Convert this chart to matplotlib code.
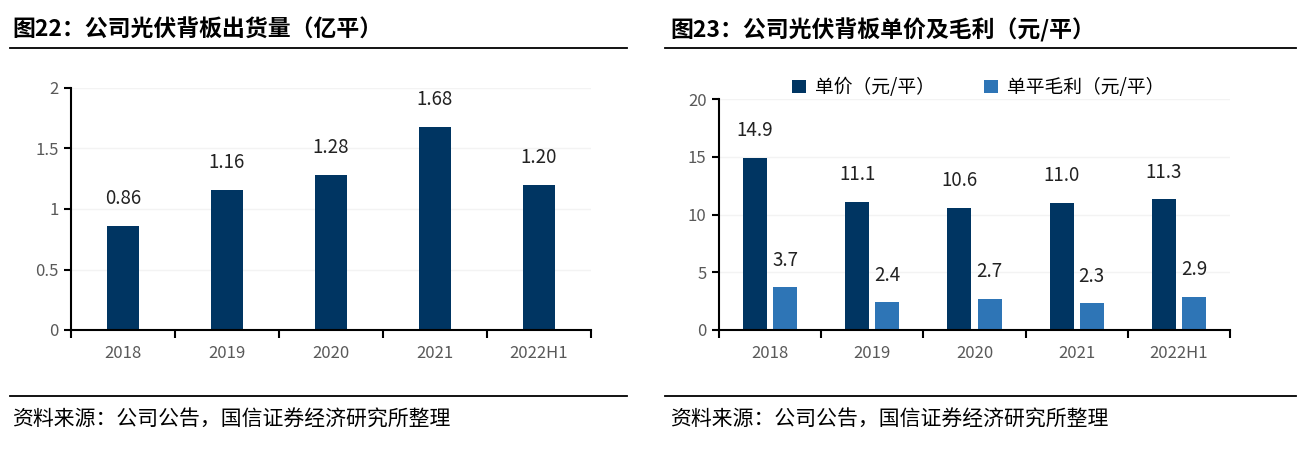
import matplotlib
matplotlib.use('Agg')
import matplotlib.pyplot as plt
from matplotlib.patches import Patch
from matplotlib.lines import Line2D
import numpy as np

plt.rcParams['font.family'] = ['Noto Sans CJK SC', 'DejaVu Sans']

# data
years = ['2018', '2019', '2020', '2021', '2022H1']
shipments = [0.86, 1.16, 1.28, 1.68, 1.20]
ship_labels = ['0.86', '1.16', '1.28', '1.68', '1.20']
unit_price = [14.9, 11.1, 10.6, 11.0, 11.3]
unit_profit = [3.7, 2.4, 2.7, 2.3, 2.9]

title_left = '图22：公司光伏背板出货量（亿平）'
title_right = '图23：公司光伏背板单价及毛利（元/平）'
source = '资料来源：公司公告，国信证券经济研究所整理'
legend_names = ['单价（元/平）', '单平毛利（元/平）']

dark = '#003562'
light = '#2e75b6'
tick_grey = '#595959'

W, H = 1306, 450
fig = plt.figure(figsize=(W / 100, H / 100), dpi=100)


def px_axes(x0, x1, ytop, ybot):
    return fig.add_axes([x0 / W, (H - ybot) / H, (x1 - x0) / W, (ybot - ytop) / H])


def style_axes(ax, ymax, ystep):
    x = np.arange(len(years))
    ax.set_xlim(-0.5, len(years) - 0.5)
    ax.set_ylim(0, ymax)
    ax.set_yticks(np.arange(0, ymax + ystep / 2, ystep))
    ax.set_xticks(np.arange(-0.5, len(years), 1.0))
    ax.set_xticklabels([])
    ax.set_xticks(x, minor=True)
    ax.set_xticklabels(years, minor=True)
    ax.tick_params(axis='x', which='major', length=6, width=1.5, direction='out', color='black')
    ax.tick_params(axis='x', which='minor', length=0, pad=11, labelsize=12, labelcolor=tick_grey)
    ax.tick_params(axis='y', length=5, width=1.5, direction='out', labelsize=12,
                   labelcolor=tick_grey, pad=4)
    for s in ['top', 'right']:
        ax.spines[s].set_visible(False)
    for s in ['left', 'bottom']:
        ax.spines[s].set_linewidth(1.5)
    ax.grid(axis='y', color='#f3f3f3', linewidth=1)
    ax.set_axisbelow(True)


# left chart
ax1 = px_axes(71, 591, 88, 330)
x = np.arange(len(years))
ax1.bar(x, shipments, width=0.31, color=dark)
style_axes(ax1, 2, 0.5)
ax1.set_yticklabels(['0', '0.5', '1', '1.5', '2'])
for xi, v, lab in zip(x, shipments, ship_labels):
    ax1.annotate(lab, (xi, v), xytext=(0, 12), textcoords='offset points',
                 ha='center', va='bottom', fontsize=13.5, color='#222222')

# right chart
ax2 = px_axes(719, 1230, 99, 330)
off = 0.147
bw = 0.235
ax2.bar(x - off, unit_price, width=bw, color=dark)
ax2.bar(x + off, unit_profit, width=bw, color=light)
style_axes(ax2, 20, 5)
for xi, v in zip(x, unit_price):
    ax2.annotate(f'{v:.1f}', (xi - off, v), xytext=(0, 12), textcoords='offset points',
                 ha='center', va='bottom', fontsize=13.5, color='#222222')
for xi, v in zip(x, unit_profit):
    ax2.annotate(f'{v:.1f}', (xi + off, v), xytext=(0, 12), textcoords='offset points',
                 ha='center', va='bottom', fontsize=13.5, color='#222222')

handles = [Patch(facecolor=dark), Patch(facecolor=light)]
ax2.legend(handles, legend_names, ncol=2, frameon=False, fontsize=13.5,
           loc='center left', bbox_to_anchor=((792 - 719) / 511, 1.05),
           handlelength=0.75, handleheight=0.75, handletextpad=0.5, columnspacing=2.6,
           borderaxespad=0, borderpad=0)

# titles, rules and sources
fig.text(12 / W, 1 - 30 / H, title_left, fontsize=16.5, fontweight='bold', va='center')
fig.text(670 / W, 1 - 30 / H, title_right, fontsize=16.5, fontweight='bold', va='center')
for x0, x1 in [(10, 627), (665, 1296)]:
    for yy in [48, 396]:
        fig.add_artist(Line2D([x0 / W, x1 / W], [1 - yy / H, 1 - yy / H], color='black', linewidth=1.3))
fig.text(12 / W, 1 - 420 / H, source, fontsize=15, va='center')
fig.text(670 / W, 1 - 420 / H, source, fontsize=15, va='center')

fig.savefig('out.png', dpi=100, facecolor='white')
